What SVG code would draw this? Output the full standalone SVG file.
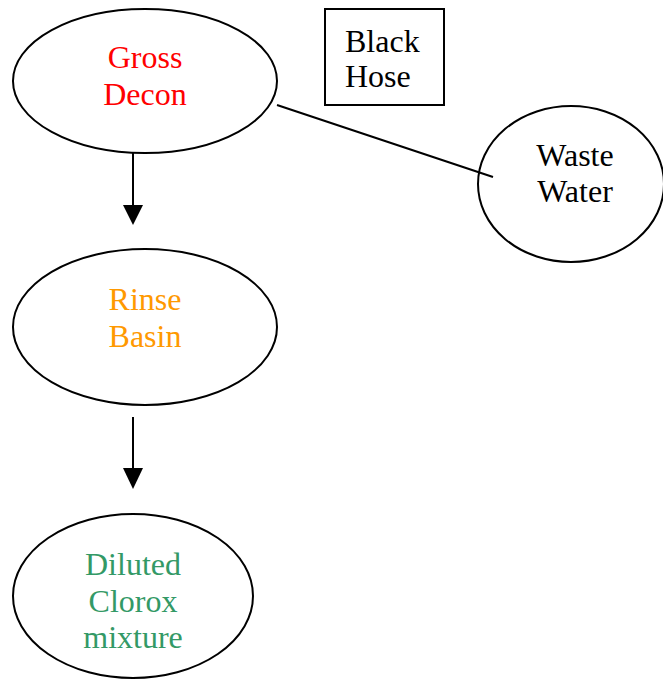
<svg xmlns="http://www.w3.org/2000/svg" width="663" height="679" viewBox="0 0 663 679">
<defs>
<style>
.shape{fill:#fff;stroke:#000;stroke-width:2}
.t{font-family:"Liberation Serif","Times New Roman",serif;font-size:32px;text-anchor:middle}
.edge{stroke:#000;stroke-width:2;fill:none}
</style>
</defs>
<rect width="663" height="679" fill="#fff"/>
<g id="gross-decon">
<ellipse class="shape" cx="145" cy="81" rx="132" ry="72"/>
<text class="t" fill="#ff0000" x="145" y="68">Gross</text>
<text class="t" fill="#ff0000" x="145" y="105">Decon</text>
</g>
<g id="black-hose">
<rect class="shape" x="325" y="9" width="119" height="96"/>
<text class="t" style="text-anchor:start" x="345" y="52">Black</text>
<text class="t" style="text-anchor:start" x="345" y="87">Hose</text>
</g>
<g id="waste-water">
<ellipse class="shape" cx="571" cy="184" rx="93" ry="78"/>
<text class="t" x="575" y="166">Waste</text>
<text class="t" x="575" y="202">Water</text>
</g>
<g id="rinse-basin">
<ellipse class="shape" cx="145" cy="327" rx="132" ry="78"/>
<text class="t" fill="#ff9900" x="145" y="310">Rinse</text>
<text class="t" fill="#ff9900" x="145" y="347">Basin</text>
</g>
<g id="diluted-clorox">
<ellipse class="shape" cx="133" cy="596" rx="120" ry="82"/>
<text class="t" fill="#339966" x="133" y="575">Diluted</text>
<text class="t" fill="#339966" x="133" y="612">Clorox</text>
<text class="t" fill="#339966" x="133" y="648">mixture</text>
</g>
<g id="connectors">
<line class="edge" x1="277" y1="105" x2="493" y2="177"/>
<line class="edge" x1="133" y1="153" x2="133" y2="206"/>
<path d="M123,205 L143,205 L133,225 Z" fill="#000"/>
<line class="edge" x1="133" y1="417" x2="133" y2="469"/>
<path d="M123,468 L143,468 L133,489 Z" fill="#000"/>
</g>
</svg>
